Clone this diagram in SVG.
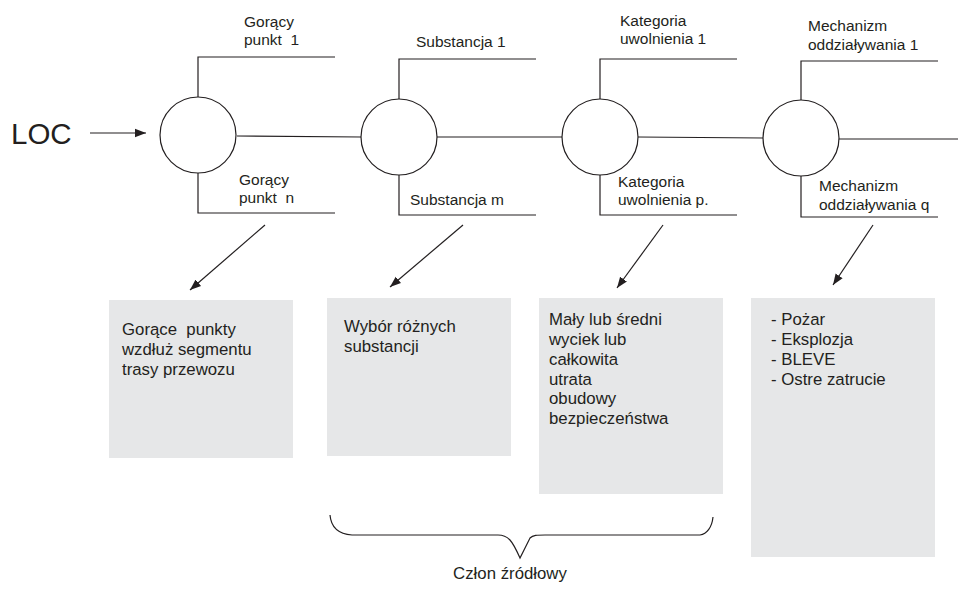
<svg xmlns="http://www.w3.org/2000/svg" width="958" height="590" viewBox="0 0 958 590">
<style>
.ln{fill:none;stroke:#231f20;stroke-width:1.2}
.cir{fill:#fff;stroke:#231f20;stroke-width:1.2}
.box{fill:#e6e7e8}
.t{font-family:"Liberation Sans",Arial,sans-serif;font-size:15.5px;fill:#231f20}
.b{font-family:"Liberation Sans",Arial,sans-serif;font-size:16.8px;fill:#231f20}
.loc{font-family:"Liberation Sans",Arial,sans-serif;font-size:29.5px;fill:#231f20}
</style>
<defs>
<marker id="ah" markerWidth="12" markerHeight="10" refX="11" refY="5" orient="auto" markerUnits="userSpaceOnUse">
<path d="M0,0.8 L11,5 L0,9.2 Z" fill="#231f20"/>
</marker>
</defs>
<g id="connectors">
<line class="ln" x1="90" y1="133" x2="146" y2="133" marker-end="url(#ah)"/>
<line class="ln" x1="237" y1="136" x2="361" y2="137"/>
<line class="ln" x1="437" y1="137" x2="562" y2="137"/>
<line class="ln" x1="638" y1="137" x2="763" y2="138"/>
<line class="ln" x1="839" y1="139" x2="958" y2="139"/>
<polyline class="ln" points="198,97 198,57 335,57"/>
<polyline class="ln" points="198,173 198,213 335,213"/>
<polyline class="ln" points="399,99 399,59 536,59"/>
<polyline class="ln" points="399,175 399,215 536,215"/>
<polyline class="ln" points="600,99 600,59 737,59"/>
<polyline class="ln" points="600,175 600,215 737,215"/>
<polyline class="ln" points="801,100 801,61 938,61"/>
<polyline class="ln" points="801,176 801,217 938,217"/>
<line class="ln" x1="265" y1="225" x2="190" y2="290" marker-end="url(#ah)"/>
<line class="ln" x1="463" y1="225" x2="390" y2="287" marker-end="url(#ah)"/>
<line class="ln" x1="663" y1="225" x2="617" y2="288" marker-end="url(#ah)"/>
<line class="ln" x1="873" y1="225" x2="833" y2="285" marker-end="url(#ah)"/>
<path class="ln" d="M330,515 C331,527 338,534 352,535 L498,535 C508,535 512,540 520,558 L530,538 C533,535 537,535 545,535 L700,535 C707,534 712,527 713,517"/>
</g>
<g id="loc"><text class="loc" x="11" y="144">LOC</text></g>
<g id="node1">
<circle class="cir" cx="198" cy="135" r="38"/>
<text class="t" x="244" y="27">Gorący</text>
<text class="t" x="244" y="45" xml:space="preserve">punkt  1</text>
<text class="t" x="239" y="185">Gorący</text>
<text class="t" x="239" y="203" xml:space="preserve">punkt  n</text>
</g>
<g id="node2">
<circle class="cir" cx="399" cy="137" r="38"/>
<text class="t" x="416" y="47">Substancja 1</text>
<text class="t" x="410" y="205">Substancja m</text>
</g>
<g id="node3">
<circle class="cir" cx="600" cy="137" r="38"/>
<text class="t" x="620" y="26">Kategoria</text>
<text class="t" x="620" y="44">uwolnienia 1</text>
<text class="t" x="618" y="187">Kategoria</text>
<text class="t" x="618" y="205">uwolnienia p.</text>
</g>
<g id="node4">
<circle class="cir" cx="801" cy="138" r="38"/>
<text class="t" x="808" y="31">Mechanizm</text>
<text class="t" x="808" y="50">oddziaływania 1</text>
<text class="t" x="819" y="191">Mechanizm</text>
<text class="t" x="819" y="210">oddziaływania q</text>
</g>
<g id="box1">
<rect class="box" x="109" y="300" width="184" height="158"/>
<text class="b" x="122" y="335" xml:space="preserve">Gorące  punkty</text>
<text class="b" x="122" y="355">wzdłuż segmentu</text>
<text class="b" x="122" y="375">trasy przewozu</text>
</g>
<g id="box2">
<rect class="box" x="327" y="298" width="184" height="158"/>
<text class="b" x="344" y="332">Wybór różnych</text>
<text class="b" x="344" y="352">substancji</text>
</g>
<g id="box3">
<rect class="box" x="539" y="298" width="184" height="196"/>
<text class="b" x="549" y="325">Mały lub średni</text>
<text class="b" x="549" y="345">wyciek lub</text>
<text class="b" x="549" y="365">całkowita</text>
<text class="b" x="549" y="385">utrata</text>
<text class="b" x="549" y="404">obudowy</text>
<text class="b" x="549" y="424">bezpieczeństwa</text>
</g>
<g id="box4">
<rect class="box" x="751" y="298" width="184" height="259"/>
<text class="b" x="771" y="325">- Pożar</text>
<text class="b" x="771" y="345">- Eksplozja</text>
<text class="b" x="771" y="365">- BLEVE</text>
<text class="b" x="771" y="385">- Ostre zatrucie</text>
</g>
<g id="brace-label">
<text class="b" x="510" y="579" text-anchor="middle">Człon źródłowy</text>
</g>
</svg>
